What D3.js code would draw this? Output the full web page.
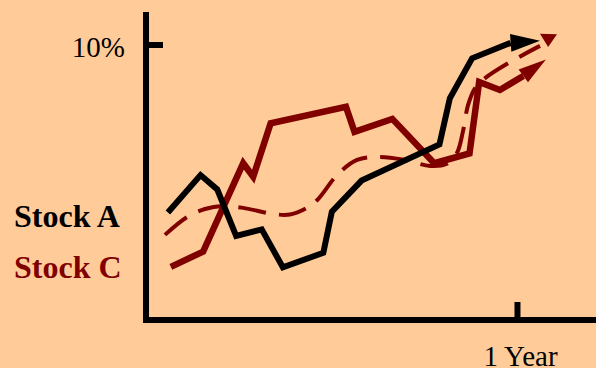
<!DOCTYPE html>
<html><head><meta charset="utf-8">
<script src="https://cdn.jsdelivr.net/npm/d3@7"></script>
<style>
html,body{margin:0;padding:0;background:#FFCC99;}
svg{display:block;}
</style></head>
<body><svg id="chart" width="596" height="368"></svg>
<script>
// ---- data (time in years, value in %) ----
const seriesNames = ["Stock A", "Stock C"];
const seriesColors = ["#000000", "#800000"];

const tA = [0.059, 0.147, 0.192, 0.243, 0.312, 0.369, 0.478, 0.501, 0.581, 0.791, 0.819, 0.879, 0.983];
const vA = [3.90, 5.26, 4.74, 3.05, 3.29, 1.91, 2.44, 3.93, 5.06, 6.37, 8.05, 9.50, 10.06];
const arrowA = {base: [0.983, 10.06], tip: [1.062, 10.14]};

const tC = [0.067, 0.154, 0.262, 0.289, 0.336, 0.539, 0.562, 0.664, 0.777, 0.872, 0.898, 0.954, 1.017];
const vC = [1.93, 2.48, 5.69, 5.20, 7.14, 7.74, 6.83, 7.30, 5.69, 6.05, 8.64, 8.35, 8.86];
const arrowC = {base: [1.017, 8.86], tip: [1.078, 9.46]};

// dashed trend of Stock C
const tT = [0.051, 0.111, 0.159, 0.205, 0.262, 0.342, 0.388, 0.434, 0.464, 0.515, 0.569, 0.631, 0.698, 0.766, 0.809, 0.838, 0.854, 0.868, 0.887, 0.914, 0.981, 1.062];
const vT = [3.09, 3.74, 4.03, 4.14, 4.07, 3.85, 3.83, 4.07, 4.39, 5.26, 5.81, 5.92, 5.81, 5.59, 5.66, 6.06, 6.82, 7.80, 8.42, 8.78, 9.36, 9.95];
const arrowT = {base: [1.085, 10.38], tip: [1.084, 9.91]};

const yTicks = [10];
const yTickLabels = ["10%"];
const xTicks = [1];
const xTickLabels = ["1 Year"];

// ---- scales ----
const svg = d3.select("#chart");
const x = d3.scaleLinear().domain([0, 1.213]).range([146, 596]);
const y = d3.scaleLinear().domain([0, 11.18]).range([320, 12]);

const serif = "'Liberation Serif','Times New Roman',Times,serif";

// axes lines
svg.append("path")
  .attr("d", `M${x(0)},${y(11.18)}L${x(0)},${y(0)}L${x.range()[1]},${y(0)}`)
  .attr("fill", "none").attr("stroke", "#000").attr("stroke-width", 6)
  .attr("stroke-linejoin", "miter").attr("stroke-linecap", "butt");

const yAxis = d3.axisLeft(y).tickValues(yTicks).tickFormat((d, i) => yTickLabels[i])
  .tickSize(-17).tickSizeOuter(0).tickPadding(21);
const gy = svg.append("g").attr("transform", `translate(${x(0)},0)`).call(yAxis);
gy.select(".domain").remove();
gy.selectAll(".tick line").attr("stroke", "#000").attr("stroke-width", 6);
gy.selectAll(".tick text").attr("font-family", serif).attr("font-size", 29)
  .attr("fill", "#000").attr("dy", "0.40em");

const xAxis = d3.axisBottom(x).tickValues(xTicks).tickFormat((d, i) => xTickLabels[i])
  .tickSize(-18).tickSizeOuter(0);
const gx = svg.append("g").attr("transform", `translate(0,${y(0)})`).call(xAxis);
gx.select(".domain").remove();
gx.selectAll(".tick line").attr("stroke", "#000").attr("stroke-width", 6);
gx.selectAll(".tick text").attr("font-family", serif).attr("font-size", 29)
  .attr("fill", "#000").attr("y", 46).attr("dy", 0).attr("dx", 3);

// ---- lines ----
function pts(ts, vs) { return ts.map((t, i) => [x(t), y(vs[i])]); }

function arrowHead(a, halfW) {
  const b = [x(a.base[0]), y(a.base[1])], t = [x(a.tip[0]), y(a.tip[1])];
  const dx = t[0] - b[0], dy = t[1] - b[1], L = Math.hypot(dx, dy);
  const nx = -dy / L * halfW, ny = dx / L * halfW;
  return `M${t[0]},${t[1]}L${b[0] + nx},${b[1] + ny}L${b[0] - nx},${b[1] - ny}Z`;
}

// dashed trend
svg.append("path")
  .attr("d", d3.line().curve(d3.curveCatmullRom.alpha(0.5))(pts(tT, vT)))
  .attr("fill", "none").attr("stroke", seriesColors[1]).attr("stroke-width", 4)
  .attr("stroke-dasharray", "28,13");
svg.append("path").attr("d", arrowHead(arrowT, 8.5)).attr("fill", seriesColors[1]);

// Stock C
svg.append("path")
  .attr("d", d3.line()(pts(tC, vC)))
  .attr("fill", "none").attr("stroke", seriesColors[1]).attr("stroke-width", 6.5)
  .attr("stroke-linejoin", "miter");
svg.append("path").attr("d", arrowHead(arrowC, 8)).attr("fill", seriesColors[1]);

// Stock A
svg.append("path")
  .attr("d", d3.line()(pts(tA, vA)))
  .attr("fill", "none").attr("stroke", seriesColors[0]).attr("stroke-width", 6)
  .attr("stroke-linejoin", "miter");
svg.append("path").attr("d", arrowHead(arrowA, 9)).attr("fill", seriesColors[0]);

// ---- labels ----
const labelY = [226.7, 278.3];
svg.selectAll("text.lbl").data(seriesNames).enter().append("text")
  .attr("class", "lbl")
  .attr("x", 14).attr("y", (d, i) => labelY[i])
  .attr("font-family", serif).attr("font-weight", "bold").attr("font-size", 32)
  .attr("fill", (d, i) => seriesColors[i]).text(d => d);
</script></body></html>
